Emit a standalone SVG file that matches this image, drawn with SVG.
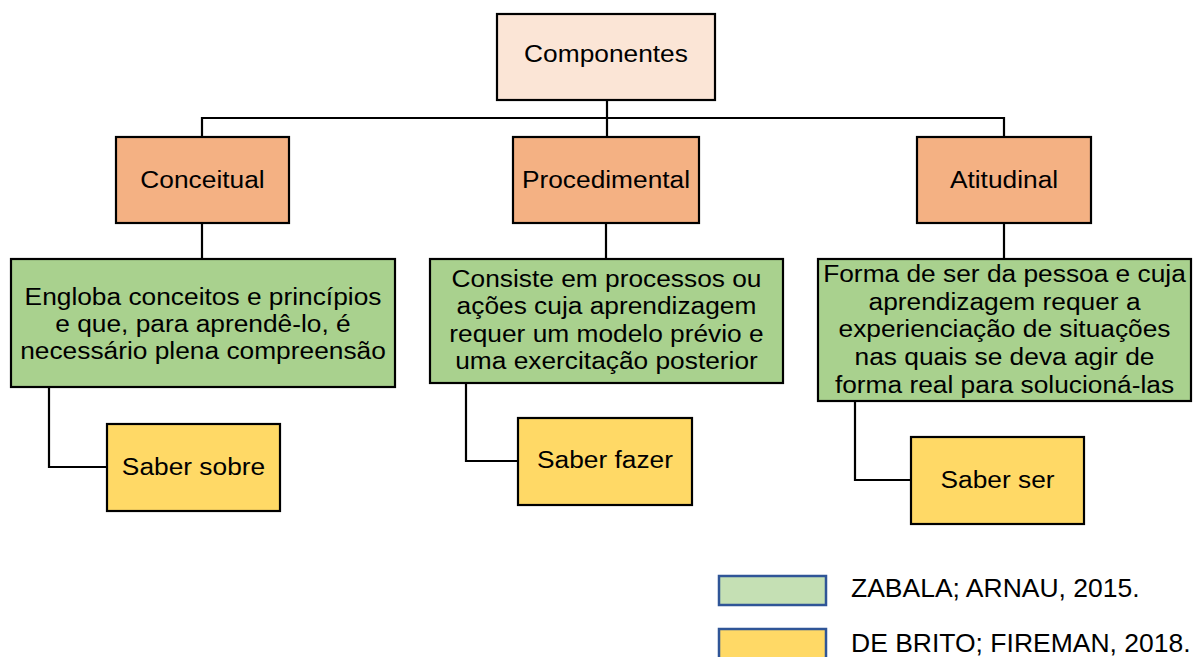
<svg xmlns="http://www.w3.org/2000/svg" width="1199" height="657" viewBox="0 0 1199 657">
<style>
.box{stroke:#000;stroke-width:2.2}
.top{fill:#fbe5d6}
.hdr{fill:#f4b183}
.grn{fill:#a9d18e}
.yel{fill:#ffd966}
.leg{stroke:#2f5597;stroke-width:2.5}
.t{font-family:"Liberation Sans",Arial,sans-serif;font-size:23.5px;fill:#000;text-anchor:middle}
.l{font-family:"Liberation Sans",Arial,sans-serif;font-size:25px;fill:#000}
.c{fill:none;stroke:#000;stroke-width:2.2}
</style>
<rect width="1199" height="657" fill="#fff"/>
<g id="connectors">
<path class="c" d="M607 100V137M202 137V118H1004V137"/>
<path class="c" d="M202 223V259M606 223V259M1004 223V259"/>
<path class="c" d="M49 387V467H107"/>
<path class="c" d="M466 383V461H518"/>
<path class="c" d="M855 401V480H911"/>
</g>
<g id="componentes">
<rect class="box top" x="497" y="14" width="218" height="86"/>
<text class="t" transform="translate(606,62) scale(1.12,1)">Componentes</text>
</g>
<g id="conceitual">
<rect class="box hdr" x="116" y="137" width="173" height="86"/>
<text class="t" transform="translate(202.5,188) scale(1.12,1)">Conceitual</text>
</g>
<g id="procedimental">
<rect class="box hdr" x="513" y="137" width="186" height="86"/>
<text class="t" transform="translate(606,188) scale(1.12,1)">Procedimental</text>
</g>
<g id="atitudinal">
<rect class="box hdr" x="917" y="137" width="174" height="86"/>
<text class="t" transform="translate(1004,188) scale(1.12,1)">Atitudinal</text>
</g>
<g id="desc-conceitual">
<rect class="box grn" x="11" y="259" width="384" height="128"/>
<text class="t" transform="translate(203,305) scale(1.12,1)">Engloba conceitos e princípios</text>
<text class="t" transform="translate(203,332) scale(1.12,1)">e que, para aprendê-lo, é</text>
<text class="t" transform="translate(203,359) scale(1.12,1)">necessário plena compreensão</text>
</g>
<g id="desc-procedimental">
<rect class="box grn" x="430" y="259" width="353" height="124"/>
<text class="t" transform="translate(606.5,287) scale(1.12,1)">Consiste em processos ou</text>
<text class="t" transform="translate(606.5,314) scale(1.12,1)">ações cuja aprendizagem</text>
<text class="t" transform="translate(606.5,342) scale(1.12,1)">requer um modelo prévio e</text>
<text class="t" transform="translate(606.5,369) scale(1.12,1)">uma exercitação posterior</text>
</g>
<g id="desc-atitudinal">
<rect class="box grn" x="818" y="259" width="373" height="142"/>
<text class="t" transform="translate(1004.5,282) scale(1.12,1)">Forma de ser da pessoa e cuja</text>
<text class="t" transform="translate(1004.5,310) scale(1.12,1)">aprendizagem requer a</text>
<text class="t" transform="translate(1004.5,337) scale(1.12,1)">experienciação de situações</text>
<text class="t" transform="translate(1004.5,365) scale(1.12,1)">nas quais se deva agir de</text>
<text class="t" transform="translate(1004.5,393) scale(1.12,1)">forma real para solucioná-las</text>
</g>
<g id="saber-sobre">
<rect class="box yel" x="107" y="424" width="173" height="87"/>
<text class="t" transform="translate(193.5,475) scale(1.12,1)">Saber sobre</text>
</g>
<g id="saber-fazer">
<rect class="box yel" x="518" y="418" width="174" height="87"/>
<text class="t" transform="translate(605,468) scale(1.12,1)">Saber fazer</text>
</g>
<g id="saber-ser">
<rect class="box yel" x="911" y="437" width="173" height="87"/>
<text class="t" transform="translate(997.5,488) scale(1.12,1)">Saber ser</text>
</g>
<g id="legend-zabala">
<rect class="leg" x="719" y="576" width="107" height="29" fill="#c5e0b4"/>
<text class="l" transform="translate(851,597) scale(1.06,1)">ZABALA; ARNAU, 2015.</text>
</g>
<g id="legend-brito">
<rect class="leg" x="719" y="629" width="107" height="40" fill="#ffd966"/>
<text class="l" transform="translate(851,652) scale(1.06,1)">DE BRITO; FIREMAN, 2018.</text>
</g>
</svg>
